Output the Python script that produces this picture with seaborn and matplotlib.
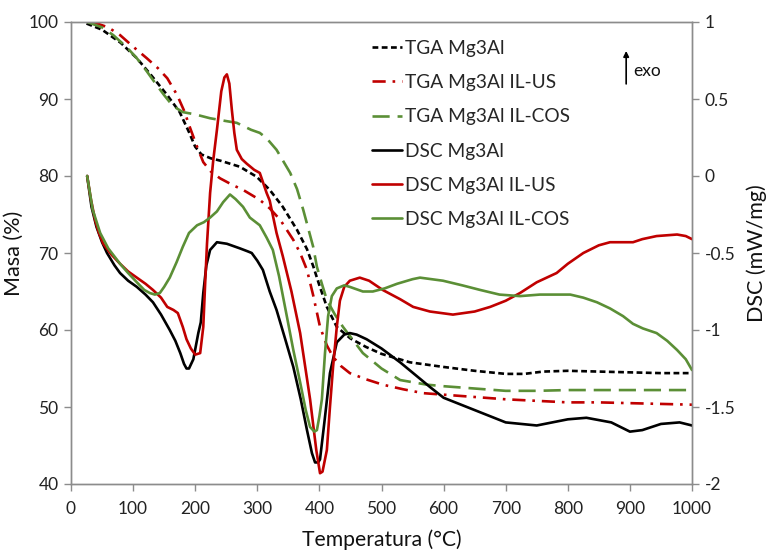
import numpy as np
import pandas as pd
import matplotlib
matplotlib.use("Agg")
import matplotlib.pyplot as plt
import seaborn as sns

sns.set_style("white")
plt.rcParams['font.family'] = ['Lato', 'DejaVu Sans']
plt.rcParams['axes.unicode_minus'] = False

# ---- data ----
tga_mg3al_T = [25, 50, 80, 106, 130, 155, 175, 190, 200, 210, 225, 240, 272, 299, 320, 341, 364, 380, 390, 400,
               412, 428, 450, 475, 500, 546, 600, 650, 700, 730, 760, 800, 850, 900, 950, 1000]
tga_mg3al_M = [99.8, 99.0, 97.3, 95.3, 93.0, 90.5, 88.3, 85.7, 83.8, 82.8, 82.3, 82.0, 81.2, 79.9, 78.2, 76.0, 73.0,
               70.5, 68.3, 65.8, 63.0, 60.4, 58.9, 57.8, 56.9, 55.8, 55.2, 54.7, 54.3, 54.3, 54.6, 54.7, 54.6, 54.5,
               54.4, 54.4]

tga_us_T = [35, 60, 79, 100, 122, 140, 155, 171, 182, 192, 203, 213, 225, 240, 261, 277, 304, 320, 337, 358, 369,
            380, 390, 401, 412, 422, 435, 449, 475, 502, 535, 567, 600, 650, 700, 750, 800, 850, 900, 950, 1000]
tga_us_M = [100, 99.3, 98.3, 96.8, 95.3, 94.0, 92.7, 90.5, 88.5, 86.2, 83.8, 81.8, 80.6, 79.7, 78.8, 78.2, 76.9,
            75.8, 74.3, 71.7, 70.0, 67.8, 64.5, 60.4, 58.0, 56.5, 55.3, 54.4, 53.6, 52.9, 52.3, 51.8, 51.6, 51.3,
            51.0, 50.8, 50.6, 50.6, 50.5, 50.4, 50.3]

tga_cos_T = [26, 50, 68, 90, 106, 122, 138, 150, 159, 170, 180, 200, 224, 245, 267, 290, 304, 315, 331, 353, 364,
             374, 382, 390, 396, 404, 412, 425, 438, 455, 470, 500, 530, 573, 600, 650, 700, 750, 800, 900, 1000]
tga_cos_M = [100, 99.3, 98.3, 96.7, 95.3, 93.6, 91.8, 90.5, 89.6, 88.8, 88.3, 88.0, 87.5, 87.2, 86.9, 86.0, 85.6,
             84.9, 83.4, 80.4, 78.3, 75.6, 73.2, 70.8, 68.2, 66.0, 63.9, 62.0, 60.4, 58.6, 57.0, 55.0, 53.5, 52.9,
             52.7, 52.4, 52.1, 52.1, 52.2, 52.2, 52.2]

dsc_mg3al_T = [26, 33, 41, 50, 58, 70, 79, 92, 106, 120, 132, 145, 159, 168, 176, 182, 186, 190, 197, 205, 209, 213,
               218, 224, 235, 251, 265, 272, 285, 291, 300, 309, 320, 331, 345, 358, 370, 380, 388, 393, 398, 401,
               408, 417, 428, 440, 449, 460, 476, 500, 530, 578, 600, 650, 700, 750, 800, 830, 870, 900, 920, 950,
               980, 1000]
dsc_mg3al_D = [0.0, -0.2, -0.33, -0.43, -0.5, -0.58, -0.63, -0.68, -0.72, -0.77, -0.82, -0.9, -1.0, -1.07, -1.15,
               -1.22, -1.25, -1.25, -1.19, -1.02, -0.95, -0.76, -0.58, -0.48, -0.43, -0.44, -0.46, -0.47, -0.49,
               -0.5, -0.55, -0.61, -0.75, -0.87, -1.06, -1.24, -1.45, -1.65, -1.8, -1.86, -1.86, -1.84, -1.6, -1.28,
               -1.08, -1.03, -1.02, -1.03, -1.06, -1.12, -1.21, -1.37, -1.44, -1.52, -1.6, -1.62, -1.58, -1.57,
               -1.6, -1.66, -1.65, -1.61, -1.6, -1.62]

dsc_us_T = [26, 32, 39, 45, 52, 65, 79, 92, 106, 120, 132, 145, 155, 165, 172, 180, 186, 193, 200, 208, 213, 216,
            219, 224, 229, 235, 242, 247, 251, 255, 259, 263, 267, 275, 283, 295, 304, 315, 320, 331, 341, 355, 369,
            385, 395, 401, 405, 412, 417, 422, 428, 433, 440, 449, 465, 480, 502, 530, 551, 578, 615, 650, 675,
            700, 723, 750, 782, 800, 825, 850, 868, 905, 920, 943, 976, 990, 1000]
dsc_us_D = [0.0, -0.15, -0.29, -0.37, -0.44, -0.51, -0.57, -0.62, -0.66, -0.7, -0.74, -0.79, -0.85, -0.87, -0.89,
            -0.98, -1.06, -1.12, -1.16, -1.15, -0.98, -0.7, -0.44, -0.11, 0.1, 0.3, 0.55, 0.64, 0.66, 0.6, 0.43,
            0.28, 0.17, 0.11, 0.08, 0.04, 0.02, -0.11, -0.16, -0.37, -0.52, -0.75, -1.02, -1.45, -1.78, -1.93,
            -1.92, -1.78, -1.5, -1.24, -0.98, -0.81, -0.72, -0.68, -0.66, -0.68, -0.74, -0.8, -0.85, -0.88, -0.9,
            -0.88, -0.85, -0.81, -0.76, -0.69, -0.63, -0.57, -0.5, -0.45, -0.43, -0.43, -0.41, -0.39, -0.38,
            -0.39, -0.41]

dsc_cos_T = [26, 35, 47, 60, 79, 92, 106, 118, 127, 135, 143, 150, 159, 170, 180, 190, 203, 214, 224, 235, 245,
             256, 265, 277, 288, 304, 315, 325, 335, 348, 358, 369, 378, 385, 392, 396, 400, 404, 409, 414, 420,
             428, 440, 449, 470, 486, 505, 525, 550, 562, 599, 630, 659, 690, 723, 755, 804, 825, 847, 868, 889,
             905, 921, 943, 960, 976, 990, 1000]
dsc_cos_D = [0.0, -0.22, -0.37, -0.47, -0.57, -0.63, -0.69, -0.74, -0.76, -0.77, -0.76, -0.72, -0.66, -0.56, -0.46,
             -0.37, -0.32, -0.3, -0.27, -0.23, -0.17, -0.12, -0.15, -0.2, -0.27, -0.32, -0.4, -0.48, -0.65, -0.92,
             -1.13, -1.34, -1.52, -1.63, -1.66, -1.65, -1.56, -1.45, -1.15, -0.91, -0.78, -0.73, -0.71, -0.72,
             -0.75, -0.75, -0.73, -0.7, -0.67, -0.66, -0.68, -0.71, -0.74, -0.77, -0.78, -0.77, -0.77, -0.79,
             -0.82, -0.86, -0.91, -0.96, -0.99, -1.02, -1.07, -1.13, -1.19, -1.26]

labels = ["TGA Mg3Al", "TGA Mg3Al IL-US", "TGA Mg3Al IL-COS",
          "DSC Mg3Al", "DSC Mg3Al IL-US", "DSC Mg3Al IL-COS"]
x_ticks = list(range(0, 1001, 100))
left_ticks = list(range(40, 101, 10))
right_ticks = [1, 0.5, 0, -0.5, -1, -1.5, -2]

BLACK = "#000000"
RED = "#C00000"
GREEN = "#5B8F36"
GRAY = "#8C8C8C"

fig = plt.figure(figsize=(7.67, 5.51), dpi=100)
ax = fig.add_axes([71/767, 1-484/551, (692-71)/767, (484-22)/551])
ax2 = ax.twinx()

lw = 1.9
sns.lineplot(x=tga_mg3al_T, y=tga_mg3al_M, ax=ax, color=BLACK, lw=lw, label=labels[0], legend=False)
sns.lineplot(x=tga_us_T, y=tga_us_M, ax=ax, color=RED, lw=lw, label=labels[1], legend=False)
sns.lineplot(x=tga_cos_T, y=tga_cos_M, ax=ax, color=GREEN, lw=lw, label=labels[2], legend=False)
l0, l1, l2 = ax.get_lines()[:3]
l0.set_dashes([2.2, 1.3])
l1.set_dashes([5.0, 2.6, 1.0, 2.6])
l2.set_dashes([6.5, 3.0])

sns.lineplot(x=dsc_mg3al_T, y=dsc_mg3al_D, ax=ax2, color=BLACK, lw=lw, label=labels[3], legend=False)
sns.lineplot(x=dsc_us_T, y=dsc_us_D, ax=ax2, color=RED, lw=lw, label=labels[4], legend=False)
sns.lineplot(x=dsc_cos_T, y=dsc_cos_D, ax=ax2, color=GREEN, lw=lw, label=labels[5], legend=False)

ax.set_xlim(0, 1000)
ax.set_ylim(40, 100)
ax2.set_ylim(-2, 1)
ax.set_xticks(x_ticks)
ax.set_yticks(left_ticks)
ax2.set_yticks(right_ticks)
ax2.set_yticklabels([("%g" % v) for v in right_ticks])

for a in (ax, ax2):
    for s in a.spines.values():
        s.set_color(GRAY)
        s.set_linewidth(1.0)
ax.tick_params(axis='both', which='both', direction='out', length=5, width=1, color=GRAY,
               labelsize=12.5, labelcolor="#222222", pad=4)
ax2.tick_params(axis='y', direction='out', length=5, width=1, color=GRAY,
                labelsize=12.5, labelcolor="#222222", pad=4)
ax.tick_params(axis='x', pad=7)
ax.tick_params(left=True, bottom=True)
ax2.tick_params(right=True)

ax.set_xlabel("Temperatura (°C)", fontsize=15.2, color="#111111", labelpad=9)
ax.set_ylabel("Masa (%)", fontsize=15.5, color="#111111", labelpad=3)
ax2.set_ylabel("DSC (mW/mg)", fontsize=15.5, color="#111111", labelpad=8)

handles = ax.get_lines()[:3] + ax2.get_lines()[:3]
leg = ax2.legend(handles, labels, loc="upper left", bbox_to_anchor=(0.472, 0.978), frameon=False,
                 fontsize=13.8, handlelength=1.6, handletextpad=0.15, labelspacing=0.9, borderaxespad=0)

ax2.annotate("", xy=(894, 0.83), xytext=(894, 0.58),
             arrowprops=dict(arrowstyle="-|>", color="black", lw=1.2, mutation_scale=8))
ax2.text(905, 0.68, "exo", fontsize=12.5, color="#111111", va="center", ha="left")

fig.savefig("out.png", dpi=100)
